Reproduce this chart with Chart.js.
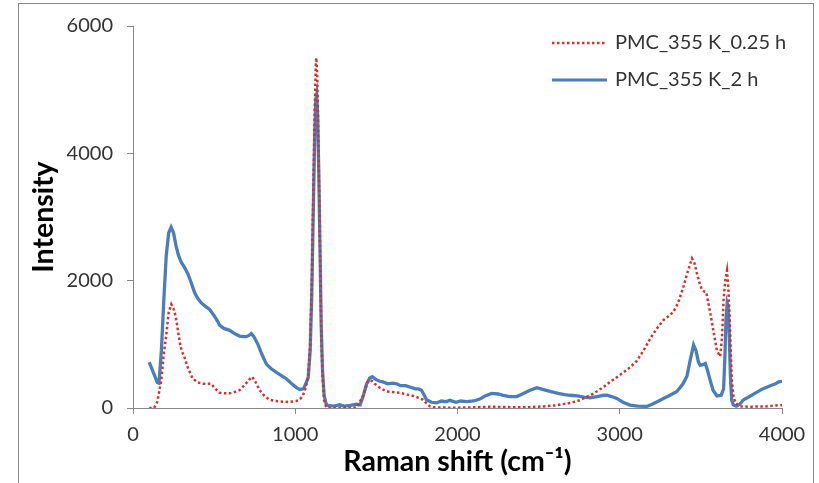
<!DOCTYPE html>
<html>
<head>
<meta charset="utf-8">
<script src="https://cdn.jsdelivr.net/npm/chart.js@4.4.1/dist/chart.umd.min.js"></script>
<style>
  html, body { margin: 0; padding: 0; background: #fff; }
  #wrap { position: relative; width: 819px; height: 483px; overflow: hidden; }
  #frame { position: absolute; left: 18px; top: 3px; width: 796px; height: 500px;
           border: 1px solid #8a8a8a; box-sizing: border-box; }
  #c { position: absolute; left: 0; top: 0; }
</style>
</head>
<body>
<div id="wrap">
  <div id="frame"></div>
  <canvas id="c" width="819" height="483"></canvas>
</div>
<script>
// ---- Data ----
const seriesNames = ["PMC_355 K_0.25 h", "PMC_355 K_2 h"];
const xTicks = [0, 1000, 2000, 3000, 4000];
const yTicks = [0, 2000, 4000, 6000];

// PMC_355 K_0.25 h (red dotted)
const shiftRed = [100,130,150,174,190,205,220,236,250,262,275,287,300,318,340,369,400,431,460,482,505,534,565,596,625,657,680,698,718,735,755,781,810,842,880,925,960,1007,1030,1048,1065,1080,1092,1102,1112,1120,1127,1130,1136,1144,1152,1160,1168,1178,1190,1200,1300,1380,1420,1445,1459,1475,1490,1520,1562,1600,1645,1690,1727,1760,1788,1810,1830,1860,1950,2000,2100,2200,2300,2400,2500,2600,2694,2740,2776,2820,2858,2900,2941,2980,3023,3064,3105,3146,3190,3229,3269,3300,3331,3360,3393,3420,3445,3460,3475,3490,3506,3520,3533,3550,3568,3585,3599,3619,3630,3640,3650,3661,3669,3677,3684,3691,3700,3712,3743,3800,3900,3990,4000];
const intRed = [0,0,100,430,850,1150,1500,1630,1560,1450,1250,1050,900,790,620,460,400,380,380,380,310,240,230,230,250,280,340,390,450,490,410,280,190,130,110,100,95,110,140,200,320,520,1000,2000,3500,4700,5400,5500,5200,4000,2600,1200,500,120,20,5,5,10,200,400,440,420,380,320,260,250,240,210,190,160,130,70,25,10,5,5,10,20,15,10,20,40,80,110,150,200,260,330,410,480,560,640,740,900,1100,1250,1380,1440,1510,1650,1910,2150,2350,2280,2120,1980,1860,1830,1820,1600,1350,1100,900,810,1100,1700,2000,2160,1900,1450,900,430,200,80,25,20,25,45,45];

// PMC_355 K_2 h (blue solid)
const shiftBlue = [100,125,150,160,175,190,205,220,235,250,265,280,297,315,338,360,380,400,421,445,472,500,520,534,560,596,625,657,680,698,715,729,745,770,795,822,850,884,915,945,975,1007,1030,1050,1065,1080,1092,1102,1112,1120,1127,1132,1138,1145,1152,1160,1168,1178,1190,1200,1240,1274,1300,1340,1377,1400,1420,1440,1459,1475,1495,1520,1541,1570,1600,1624,1650,1680,1706,1740,1760,1778,1795,1809,1840,1871,1900,1930,1953,1990,2020,2056,2100,2138,2170,2210,2250,2282,2320,2365,2400,2440,2488,2530,2570,2620,2660,2694,2740,2780,2817,2860,2900,2920,2950,2982,3020,3064,3110,3167,3200,3240,3269,3310,3352,3390,3414,3435,3455,3470,3485,3496,3510,3527,3540,3558,3575,3599,3625,3640,3648,3655,3662,3668,3675,3682,3690,3700,3718,3740,3763,3800,3846,3880,3928,3960,3980,4000];
const intBlue = [720,560,400,390,900,1700,2400,2750,2840,2750,2550,2400,2290,2220,2110,1960,1810,1720,1650,1600,1550,1450,1370,1300,1250,1220,1170,1130,1120,1120,1140,1170,1120,1000,840,690,620,560,510,460,390,320,290,300,380,480,900,1800,3200,4300,4850,4920,4600,3700,2600,1300,600,200,70,40,30,50,30,40,60,50,200,380,470,490,450,420,410,380,390,380,350,350,330,300,300,280,200,130,90,80,110,100,120,90,110,100,110,140,190,230,220,200,180,180,220,270,320,290,260,230,210,200,190,170,160,180,200,200,180,150,90,45,30,25,60,110,150,200,260,380,500,760,990,900,720,670,680,700,600,430,280,190,200,300,800,1400,1650,1600,1150,500,120,50,30,60,130,180,250,300,350,380,410,420];

const toPoints = (xs, ys) => xs.map((x, i) => ({ x: x, y: ys[i] }));

const RED = '#D2322F';
const BLUE = '#4A7EBB';
const AXIS = '#878787';
const FONT = "Lato, 'Noto Sans', 'DejaVu Sans', sans-serif";

// Legend drawn inside chart area (top-right), like the reference
const insideLegend = {
  id: 'insideLegend',
  afterDraw(chart) {
    const ctx = chart.ctx;
    const ca = chart.chartArea;
    const x0 = ca.right - 230, x1 = ca.right - 175, tx = ca.right - 167;
    const rows = [
      { y: ca.top + 17, color: RED, dash: [2.5, 2.5], width: 2.5, text: seriesNames[0] },
      { y: ca.top + 54, color: BLUE, dash: [], width: 3, text: seriesNames[1] }
    ];
    ctx.save();
    rows.forEach(r => {
      ctx.beginPath();
      ctx.setLineDash(r.dash);
      ctx.strokeStyle = r.color;
      ctx.lineWidth = r.width;
      ctx.moveTo(x0, r.y);
      ctx.lineTo(x1, r.y);
      ctx.stroke();
      ctx.setLineDash([]);
      ctx.fillStyle = '#333333';
      ctx.font = "20px " + FONT;
      ctx.textAlign = 'left';
      ctx.textBaseline = 'middle';
      ctx.fillText(r.text, tx, r.y);
    });
    ctx.restore();
  }
};

new Chart(document.getElementById('c'), {
  type: 'line',
  data: {
    datasets: [
      {
        label: seriesNames[0],
        data: toPoints(shiftRed, intRed),
        borderColor: RED,
        borderWidth: 2.5,
        borderDash: [2.5, 2.5],
        pointRadius: 0,
        tension: 0,
        fill: false
      },
      {
        label: seriesNames[1],
        data: toPoints(shiftBlue, intBlue),
        borderColor: BLUE,
        borderWidth: 3.3,
        pointRadius: 0,
        tension: 0,
        fill: false
      }
    ]
  },
  options: {
    responsive: false,
    animation: false,
    events: [],
    layout: { padding: { left: 0, right: 37, top: 16, bottom: 0 } },
    plugins: {
      legend: { display: false },
      tooltip: { enabled: false },
      title: { display: false }
    },
    scales: {
      x: {
        type: 'linear',
        min: xTicks[0],
        max: xTicks[xTicks.length - 1],
        afterBuildTicks: (s) => { s.ticks = xTicks.map(v => ({ value: v })); },
        afterFit: (s) => { s.height = 75; },
        ticks: { color: '#333333', font: { family: FONT, size: 20 }, padding: 9, maxRotation: 0,
                 callback: (v) => String(v) },
        grid: { display: true, drawOnChartArea: false, drawTicks: true, tickLength: 6, color: AXIS },
        border: { display: true, color: AXIS, width: 1 },
        title: {
          display: true,
          text: 'Raman shift (cm⁻¹)',
          color: '#000',
          font: { family: FONT, size: 28.5, weight: 'bold' },
          padding: { top: 0, bottom: 4 }
        }
      },
      y: {
        type: 'linear',
        min: yTicks[0],
        max: yTicks[yTicks.length - 1],
        afterBuildTicks: (s) => { s.ticks = yTicks.map(v => ({ value: v })); },
        afterFit: (s) => { s.width = 133; },
        ticks: { color: '#333333', font: { family: FONT, size: 20 }, padding: 14,
                 callback: (v) => String(v) },
        grid: { display: true, drawOnChartArea: false, drawTicks: true, tickLength: 6, color: AXIS },
        border: { display: true, color: AXIS, width: 1 },
        title: {
          display: true,
          text: 'Intensity',
          color: '#000',
          font: { family: FONT, size: 28.5, weight: 'bold' },
          padding: { top: 27, bottom: 0 }
        }
      }
    }
  },
  plugins: [insideLegend]
});
</script>
</body>
</html>
